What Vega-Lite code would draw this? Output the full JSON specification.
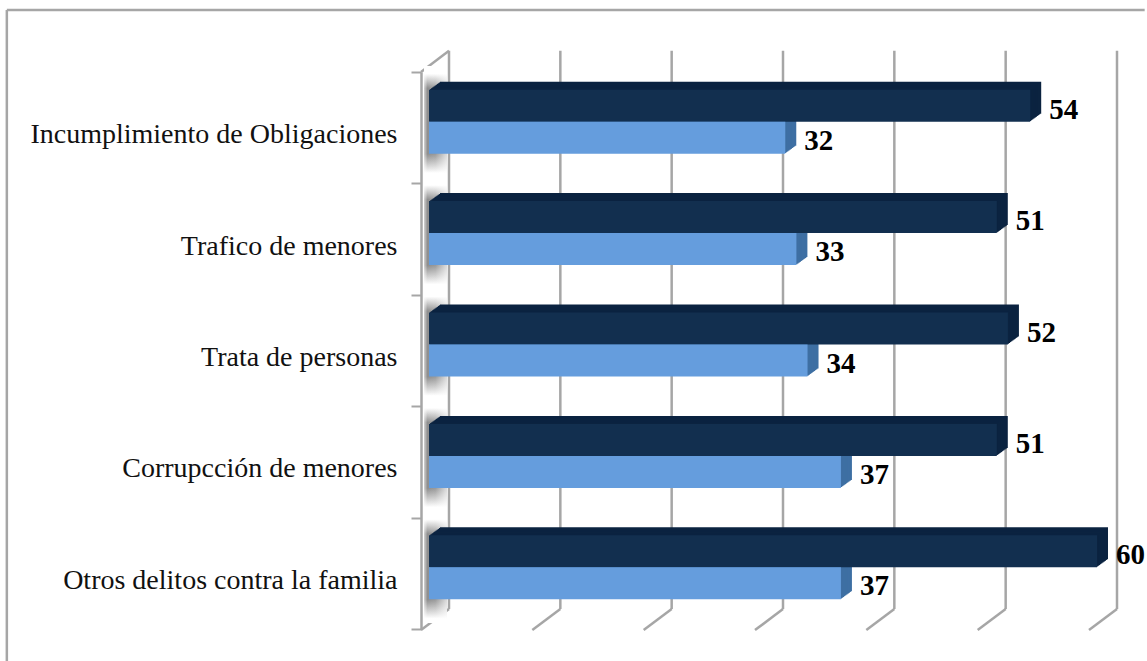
{
"$schema":"https://vega.github.io/schema/vega-lite/v6.json",
"autosize":"none","padding":{"left":7,"top":10,"right":0,"bottom":0},
"width":1140,"height":651,
"background":"white",
"config":{"view":{"stroke":null}},
"layer":[
{"layer":[
 {"data":{"values":[{"x1":-37.2,"x2":-37.2,"y1":-0.29,"y2":5.557},{"x1":-37.2,"x2":65,"y1":5.557,"y2":5.557}]},
  "mark":{"type":"rule","color":"#A6A6A6","strokeWidth":2.5},
  "encoding":{"x":{"field":"x1","type":"quantitative","axis":null,"scale":{"domain":[0,60],"range":[414,1082],"nice":false,"zero":false}},"x2":{"field":"x2"},"y":{"field":"y1","type":"quantitative","axis":null,"scale":{"domain":[0,5],"range":[619,62],"nice":false,"zero":false}},"y2":{"field":"y2"}}},
 {"data":{"values":[{"t":0},{"t":10},{"t":20},{"t":30},{"t":40},{"t":50},{"t":60}]},
  "layer":[
  {"mark":{"type":"rule","color":"#A6A6A6","strokeWidth":2.5,"xOffset":28,"x2Offset":28},
   "encoding":{"x":{"field":"t","type":"quantitative","axis":null,"scale":{"domain":[0,60],"range":[414,1082],"nice":false,"zero":false}},"y":{"datum":0.18,"type":"quantitative","axis":null,"scale":{"domain":[0,5],"range":[619,62],"nice":false,"zero":false}},"y2":{"datum":5.19}}},
  {"mark":{"type":"rule","color":"#A6A6A6","strokeWidth":2.5,"x2Offset":28},
   "encoding":{"x":{"field":"t","type":"quantitative","axis":null},"x2":{"field":"t"},"y":{"datum":-0.01,"type":"quantitative","axis":null},"y2":{"datum":0.18}}}
  ]},
 {"data":{"values":[{"t":0}]},
  "mark":{"type":"rule","color":"#A6A6A6","strokeWidth":2.5,"x2Offset":28},
  "encoding":{"x":{"field":"t","type":"quantitative","axis":null},"x2":{"field":"t"},"y":{"datum":5,"type":"quantitative","axis":null},"y2":{"datum":5.19}}}
]},
{"data":{"values":[
 {"cat":"Incumplimiento de Obligaciones","serie":"Serie 1","valor":54},
 {"cat":"Incumplimiento de Obligaciones","serie":"Serie 2","valor":32},
 {"cat":"Trafico de menores\u00a0","serie":"Serie 1","valor":51},
 {"cat":"Trafico de menores\u00a0","serie":"Serie 2","valor":33},
 {"cat":"Trata de personas","serie":"Serie 1","valor":52},
 {"cat":"Trata de personas","serie":"Serie 2","valor":34},
 {"cat":"Corrupcción de menores","serie":"Serie 1","valor":51},
 {"cat":"Corrupcción de menores","serie":"Serie 2","valor":37},
 {"cat":"Otros delitos contra la familia","serie":"Serie 1","valor":60},
 {"cat":"Otros delitos contra la familia","serie":"Serie 2","valor":37}
 ]},
 "encoding":{
  "y":{"field":"cat","type":"nominal","title":null,
   "scale":{"domain":["Incumplimiento de Obligaciones","Trafico de menores\u00a0","Trata de personas","Corrupcción de menores","Otros delitos contra la familia"],"range":[62,619],"paddingInner":0,"paddingOuter":0},
   "axis":{"orient":"left","offset":-414,"tickBand":"extent","tickSize":10,"tickWidth":2,"tickColor":"#A6A6A6","domainColor":"#A6A6A6","domainWidth":2.5,"labelFont":"Liberation Serif","labelFontSize":28,"labelColor":"#111111","labelPadding":14,"labelLimit":600,"labelOffset":7,"grid":false}}
 },
 "layer":[
 {"transform":[{"filter":"datum.serie==='Serie 1'"}],
  "mark":{"type":"rect","yOffset":-6,"y2Offset":-6,"fill":{"gradient":"linear","x1":0,"y1":0,"x2":0,"y2":1,"stops":[{"offset":0,"color":"#ffffff"},{"offset":0.07,"color":"#ffffff"},{"offset":0.2,"color":"#8f8f8f"},{"offset":0.79,"color":"#8f8f8f"},{"offset":0.96,"color":"#ffffff"},{"offset":1,"color":"#ffffff"}]}},
  "encoding":{"x":{"datum":0.27,"type":"quantitative","axis":null},"x2":{"datum":2.33}}},
 {"transform":[{"filter":"datum.serie==='Serie 1'"}],
  "mark":{"type":"rect","yOffset":-6,"y2Offset":-6,"fill":{"gradient":"linear","x1":0,"y1":0,"x2":1,"y2":0,"stops":[{"offset":0,"color":"rgba(255,255,255,0.6)"},{"offset":0.15,"color":"rgba(255,255,255,0)"},{"offset":0.5,"color":"rgba(255,255,255,0.1)"},{"offset":1,"color":"rgba(255,255,255,0.7)"}]}},
  "encoding":{"x":{"datum":0.27,"type":"quantitative","axis":null},"x2":{"datum":2.33}}},
 {"encoding":{
   "x":{"field":"valor","type":"quantitative","axis":null,"stack":null},
   "x2":{"datum":0},
   "color":{"condition":{"test":"datum.serie==='Serie 1'","value":"#0B2340"},"value":"#3E6FA3"}},
  "layer":[
 {"mark":{"type":"bar","height":32,"xOffset":19,"x2Offset":19,"yOffset":{"expr":"datum.serie==='Serie 1'?-30:2"}}},
 {"mark":{"type":"bar","height":32,"xOffset":17.9,"x2Offset":17.9,"yOffset":{"expr":"datum.serie==='Serie 1'?-29.2:2.8"}}},
 {"mark":{"type":"bar","height":32,"xOffset":16.8,"x2Offset":16.8,"yOffset":{"expr":"datum.serie==='Serie 1'?-28.4:3.6"}}},
 {"mark":{"type":"bar","height":32,"xOffset":15.7,"x2Offset":15.7,"yOffset":{"expr":"datum.serie==='Serie 1'?-27.6:4.4"}}},
 {"mark":{"type":"bar","height":32,"xOffset":14.6,"x2Offset":14.6,"yOffset":{"expr":"datum.serie==='Serie 1'?-26.8:5.2"}}},
 {"mark":{"type":"bar","height":32,"xOffset":13.5,"x2Offset":13.5,"yOffset":{"expr":"datum.serie==='Serie 1'?-26:6"}}},
 {"mark":{"type":"bar","height":32,"xOffset":12.4,"x2Offset":12.4,"yOffset":{"expr":"datum.serie==='Serie 1'?-25.2:6.8"}}},
 {"mark":{"type":"bar","height":32,"xOffset":11.3,"x2Offset":11.3,"yOffset":{"expr":"datum.serie==='Serie 1'?-24.4:7.6"}}},
 {"mark":{"type":"bar","height":32,"xOffset":10.2,"x2Offset":10.2,"yOffset":{"expr":"datum.serie==='Serie 1'?-23.6:8.4"}}},
 {"mark":{"type":"bar","height":32,"xOffset":9.1,"x2Offset":9.1,"yOffset":{"expr":"datum.serie==='Serie 1'?-22.8:9.2"}}},
 {"mark":{"type":"bar","height":32,"xOffset":8,"x2Offset":8,"yOffset":{"expr":"datum.serie==='Serie 1'?-22:10"}},"encoding":{"color":{"condition":{"test":"datum.serie==='Serie 1'","value":"#122F4F"},"value":"#659DDD"}}}
 ]},
 {"mark":{"type":"text","align":"left","baseline":"middle","dx":27,"font":"Liberation Serif","fontWeight":"bold","fontSize":29,"color":"#000000","yOffset":{"expr":"datum.serie==='Serie 1'?-18:13"}},"encoding":{"x":{"field":"valor","type":"quantitative","axis":null,"stack":null},"text":{"field":"valor","type":"quantitative"}}}
 ]}
],
"resolve":{"scale":{"y":"independent"}}
}
